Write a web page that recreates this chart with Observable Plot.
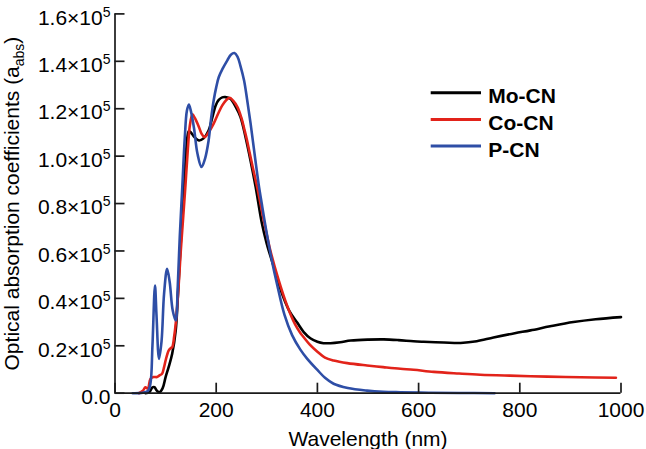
<!DOCTYPE html>
<html>
<head>
<meta charset="utf-8">
<script src="https://cdn.jsdelivr.net/npm/d3@7"></script>
<script src="https://cdn.jsdelivr.net/npm/@observablehq/plot@0.6"></script>
<style>
html, body { margin: 0; padding: 0; background: #fff; }
#wrap { width: 646px; height: 449px; }
</style>
</head>
<body>
<div id="wrap"></div>
<script>
// Series (values in units of 10^5)
const seriesNames = ["Mo-CN", "Co-CN", "P-CN"];
const seriesColors = ["#000000", "#e2231a", "#2e4ea6"];

const moWl = [60,68,74,78,83,88,94,100,106,113,120,124,129,133,136,140,143,146,150,157,166,175,185,192,199,205,212,218,228,238,248,258,268,278,290,300,314,330,345,360,373,386,400,412,426,445,466,500,531,560,590,610,650,683,715,748,790,821,860,906,950,1000];
const moVal = [0,0.005,0.025,0.025,0.01,0.004,0.02,0.068,0.11,0.166,0.265,0.4,0.6,0.75,0.87,1.0,1.08,1.105,1.1,1.08,1.066,1.075,1.108,1.16,1.214,1.237,1.248,1.249,1.242,1.21,1.165,1.08,0.98,0.87,0.72,0.63,0.532,0.42,0.345,0.298,0.258,0.232,0.217,0.211,0.211,0.215,0.222,0.226,0.227,0.224,0.219,0.217,0.214,0.212,0.219,0.235,0.253,0.265,0.282,0.3,0.312,0.321];

const coWl = [47,55,60,65,70,76,83,88,93,97,100,106,110,113,117,120,123,126,130,135,139,144,148,153,158,166,171,177,185,195,204,212,220,227,233,242,250,256,261,266,272,281,294,307,323,340,356,366,373,385,400,415,432,459,498,530,564,590,630,680,722,780,854,920,990];
const coVal = [0,0.01,0.025,0.02,0.06,0.068,0.068,0.075,0.082,0.11,0.138,0.18,0.19,0.194,0.24,0.293,0.37,0.462,0.6,0.75,0.869,1.03,1.13,1.176,1.16,1.122,1.095,1.08,1.1,1.137,1.18,1.214,1.237,1.246,1.235,1.207,1.16,1.11,1.066,1.015,0.955,0.869,0.73,0.602,0.48,0.37,0.29,0.255,0.236,0.205,0.175,0.15,0.138,0.127,0.117,0.11,0.103,0.099,0.09,0.083,0.078,0.074,0.07,0.067,0.065];

const pWl = [35,55,65,70,74,79,82,87,92,97,103,108,114,120,124,128,133,138,142,146,150,156,163,171,178,185,190,195,200,205,213,222,229,236,242,248,255,261,268,277,284,290,300,310,320,335,350,366,380,400,415,432,460,498,530,564,620,680,750];
const pVal = [0,0.002,0.01,0.04,0.2,0.454,0.33,0.145,0.22,0.42,0.525,0.47,0.35,0.307,0.45,0.66,0.87,1.08,1.19,1.218,1.19,1.12,1.01,0.954,0.99,1.066,1.16,1.235,1.29,1.333,1.37,1.404,1.428,1.435,1.42,1.38,1.32,1.24,1.137,0.99,0.88,0.8,0.673,0.56,0.462,0.33,0.245,0.185,0.145,0.098,0.065,0.04,0.022,0.011,0.006,0.004,0.002,0.001,0];

const xTicks = [0, 200, 400, 600, 800, 1000];
const yTicks = [0, 0.2, 0.4, 0.6, 0.8, 1.0, 1.2, 1.4, 1.6];
const yTickLabels = ["0.0", "0.2×10^5", "0.4×10^5", "0.6×10^5", "0.8×10^5", "1.0×10^5", "1.2×10^5", "1.4×10^5", "1.6×10^5"];
const xLabel = "Wavelength (nm)";
const yLabel = "Optical absorption coefficients (a_abs)";

const wls = [moWl, coWl, pWl];
const vals = [moVal, coVal, pVal];
const rows = [];
seriesNames.forEach((s, k) => {
  wls[k].forEach((w, i) => rows.push({series: s, wl: w, val: vals[k][i]}));
});

const FONT = '"Liberation Sans", Arial, Helvetica, sans-serif';
const AX = "#1a1a1a";
const W = 646, H = 449, ML = 114.5, MR = 25.5, MT = 13.4, MB = 56.3;
const TICK = 10;

const chart = Plot.plot({
  width: W,
  height: H,
  marginLeft: ML,
  marginRight: MR,
  marginTop: MT,
  marginBottom: MB,
  style: {fontFamily: FONT, fontSize: "21px", color: "#000", background: "#fff", overflow: "visible"},
  x: {domain: [0, 1000]},
  y: {domain: [0, 1.6]},
  color: {domain: seriesNames, range: seriesColors},
  marks: [
    Plot.line(rows, {x: "wl", y: "val", z: "series", stroke: "series", strokeWidth: 2.6, curve: "catmull-rom"}),
    // inward tick marks
    Plot.ruleX(xTicks, {stroke: AX, strokeWidth: 1.7, insetTop: (H - MT - MB) - TICK}),
    Plot.ruleY(yTicks, {stroke: AX, strokeWidth: 1.7, insetRight: (W - ML - MR) - TICK}),
    // axis lines
    Plot.ruleY([0], {stroke: AX, strokeWidth: 1.7}),
    Plot.ruleX([0], {stroke: AX, strokeWidth: 1.7}),
    // tick labels + titles
    Plot.axisX(xTicks, {tickSize: 0, tickPadding: 9, fontSize: 21, fill: "#000",
      tickFormat: d => String(d),
      label: xLabel, labelAnchor: "center", labelOffset: 53, labelArrow: "none"}),
    Plot.axisY(yTicks, {tickSize: 0, tickPadding: 4.5, dy: 4, fontSize: 21, fill: "#000",
      tickFormat: d => yTickLabels[yTicks.findIndex(t => Math.abs(t - d) < 1e-9)],
      label: yLabel, labelAnchor: "center", labelOffset: 111, labelArrow: "none"})
  ]
});

document.getElementById("wrap").appendChild(chart);

// superscripts in y tick labels
d3.select(chart).selectAll('g[aria-label="y-axis tick label"] text').each(function() {
  const t = this.textContent;
  if (t.includes("^")) {
    const [base, sup] = t.split("^");
    const sel = d3.select(this);
    sel.text(null);
    sel.append("tspan").text(base);
    sel.append("tspan").attr("dy", "-8px").attr("font-size", "14px").text(sup);
  }
});

// subscript in y title
d3.select(chart).selectAll('g[aria-label="y-axis label"] text').each(function() {
  const t = this.textContent;
  if (t.includes("_")) {
    const m = t.match(/^(.*)_([a-z]+)(\).*)$/);
    if (m) {
      const sel = d3.select(this);
      sel.text(null);
      sel.append("tspan").text(m[1]);
      sel.append("tspan").attr("dy", "5px").attr("font-size", "14px").text(m[2]);
      sel.append("tspan").attr("dy", "-5px").text(m[3]);
    }
  }
});

// legend
const leg = d3.select(chart).append("g")
  .attr("font-family", FONT).attr("font-size", 21).attr("font-weight", "bold")
  .attr("fill", "#000").attr("text-anchor", "start");
seriesNames.forEach((s, i) => {
  const yy = 92.7 + i * 26.7;
  leg.append("line").attr("x1", 430.7).attr("x2", 481).attr("y1", yy).attr("y2", yy)
    .attr("stroke", seriesColors[i]).attr("stroke-width", 3);
  leg.append("text").attr("x", 488.3).attr("y", yy + 10.6).attr("text-anchor", "start").text(s);
});
</script>
</body>
</html>
